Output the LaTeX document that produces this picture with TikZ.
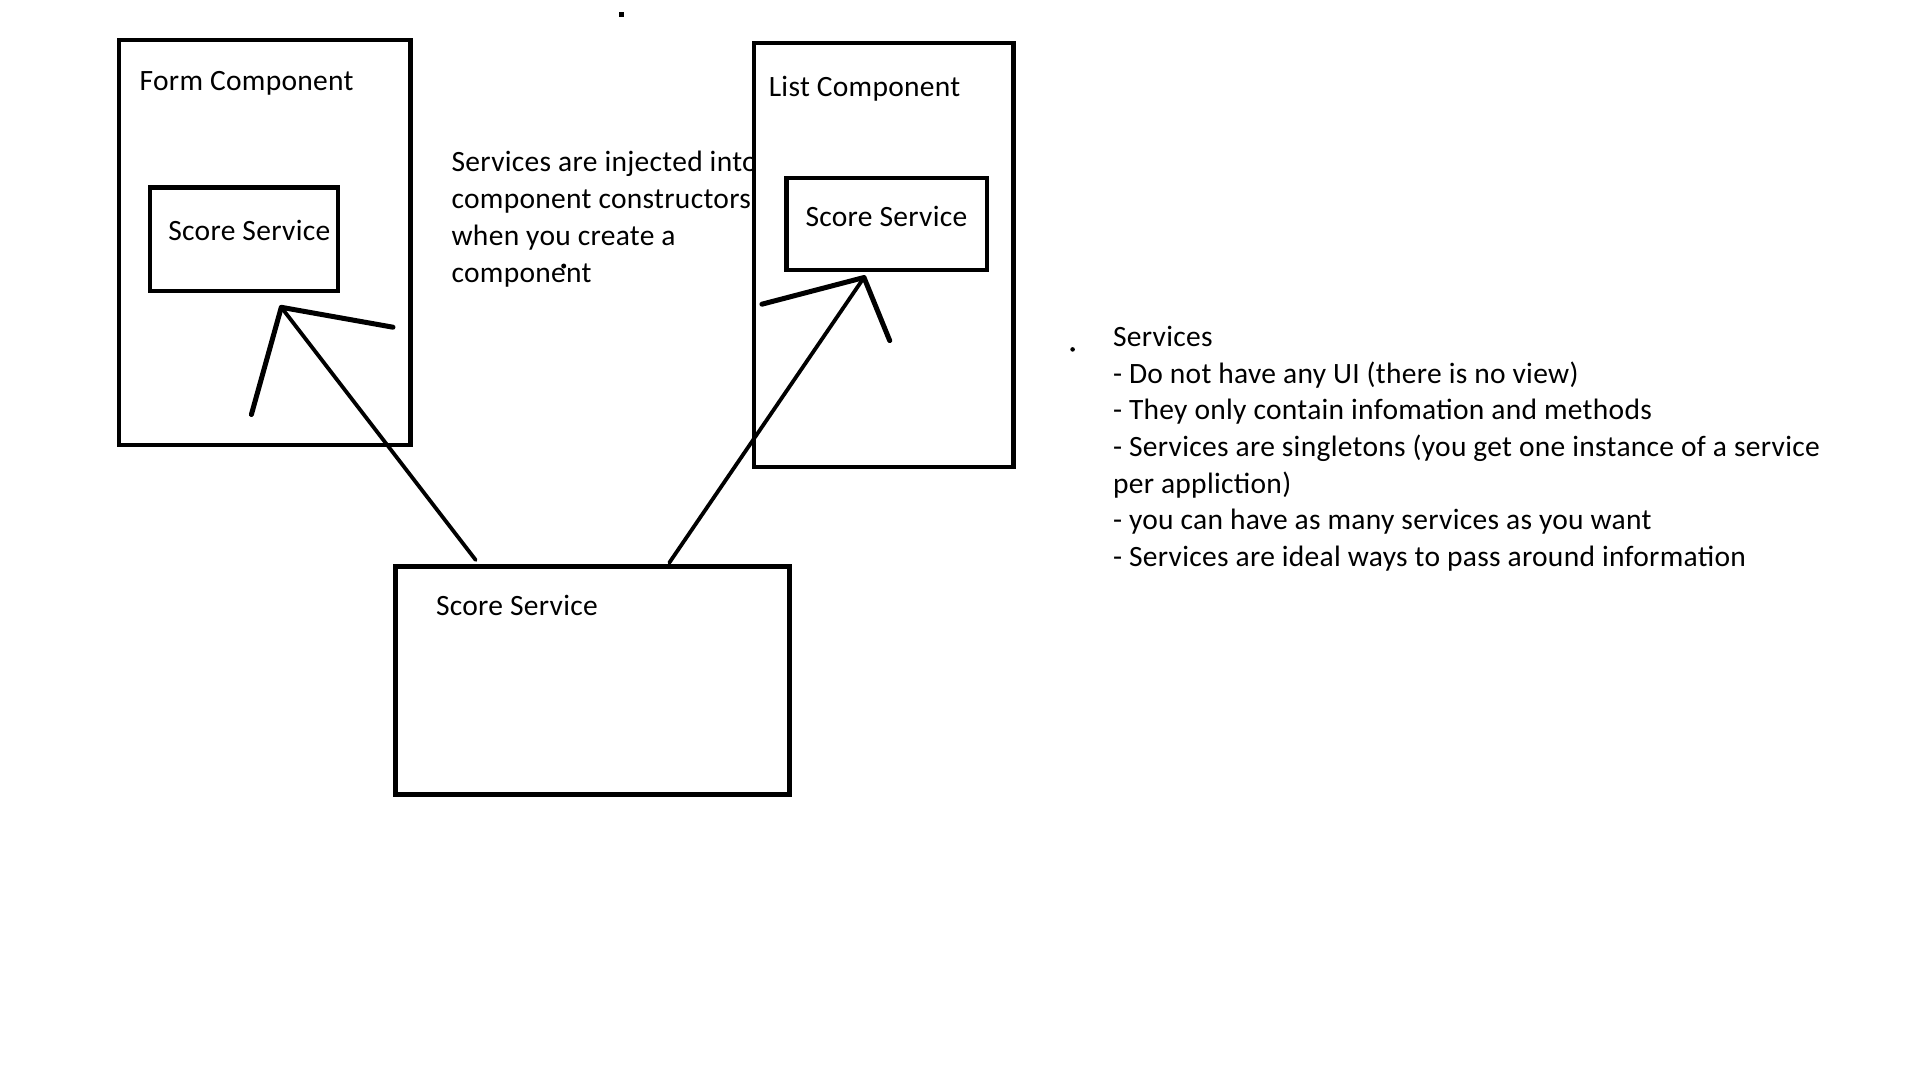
\documentclass[tikz,border=0pt]{standalone}
\usepackage{fontspec}
\setmainfont{Carlito}[LetterSpace=1.0]
\begin{document}
\begin{tikzpicture}[x=1pt,y=-1pt,
  box/.style={draw=black,line width=4.5pt,fill=white,outer sep=0pt,inner sep=0pt,anchor=north west},
  lbl/.style={anchor=base west,inner sep=0pt,outer sep=0pt,font=\fontsize{29.5}{36}\selectfont},
  shaft/.style={line width=3.8pt,line cap=round},
  barb/.style={line width=5pt,line cap=round,line join=round}]
\useasboundingbox (0,0) rectangle (1920,1080);
\fill[white] (0,0) rectangle (1920,1080);

% Form component
\node[box,minimum width=291.6pt,minimum height=404.8pt] (form) at (119,40.2) {};
\node[lbl] (formlbl) at (139.7,90.7) {Form Component};
\node[box,minimum width=188pt,minimum height=103.4pt] (fsvc) at (150,187.5) {};
\node[lbl] (fsvclbl) at (168.4,240) {Score Service};

% note text (partly covered by the list component)
\node[lbl] (n1) at (451.6,171) {Services are injected into};
\node[lbl] (n2) at (451.6,208) {component constructors};
\node[lbl] (n3) at (451.6,245) {when you create a};
\node[lbl] (n4) at (451.6,282) {component};

% List component
\node[box,minimum width=259.1pt,minimum height=424pt] (list) at (754.2,42.9) {};
\node[lbl] (listlbl) at (768.8,96.8) {List Component};
\node[box,minimum width=200.5pt,minimum height=92.2pt] (lsvc) at (786.4,178) {};
\node[lbl] (lsvclbl) at (805.5,226.6) {Score Service};

% Shared service
\node[box,minimum width=394.2pt,minimum height=228pt] (svc) at (395.5,566.3) {};
\node[lbl] (svclbl) at (436,615.7) {Score Service};

% arrows
\coordinate (ft) at (281.3,307.3);
\coordinate (fb1) at (251.4,414.5);
\coordinate (fb2) at (393,327.2);
\coordinate (fs) at (475.7,560);
\draw[shaft] (fs) -- (ft);
\draw[barb] (fb1) -- (ft) -- (fb2);

\coordinate (lt) at (864,277.5);
\coordinate (lb1) at (761.9,304.2);
\coordinate (lb2) at (889.7,340.6);
\coordinate (ls) at (669.3,562.7);
\draw[shaft] (ls) -- (lt);
\draw[barb] (lb1) -- (lt) -- (lb2);

% right notes
\node[lbl] (r1) at (1113,346.3) {Services};
\node[lbl] (r2) at (1113,383) {- Do not have any UI (there is no view)};
\node[lbl] (r3) at (1113,419.7) {- They only contain infomation and methods};
\node[lbl] (r4) at (1113,456.4) {- Services are singletons (you get one instance of a service};
\node[lbl] (r5) at (1113,493.1) {per appliction)};
\node[lbl] (r6) at (1113,529.8) {- you can have as many services as you want};
\node[lbl] (r7) at (1113,566.5) {- Services are ideal ways to pass around information};

% stray dots
\fill[black] (618.5,11.5) rectangle (623.5,16.5);
\fill[black] (563.7,266) circle (2.5);
\fill[black] (1072.6,349.4) circle (2.3);
\end{tikzpicture}
\end{document}
